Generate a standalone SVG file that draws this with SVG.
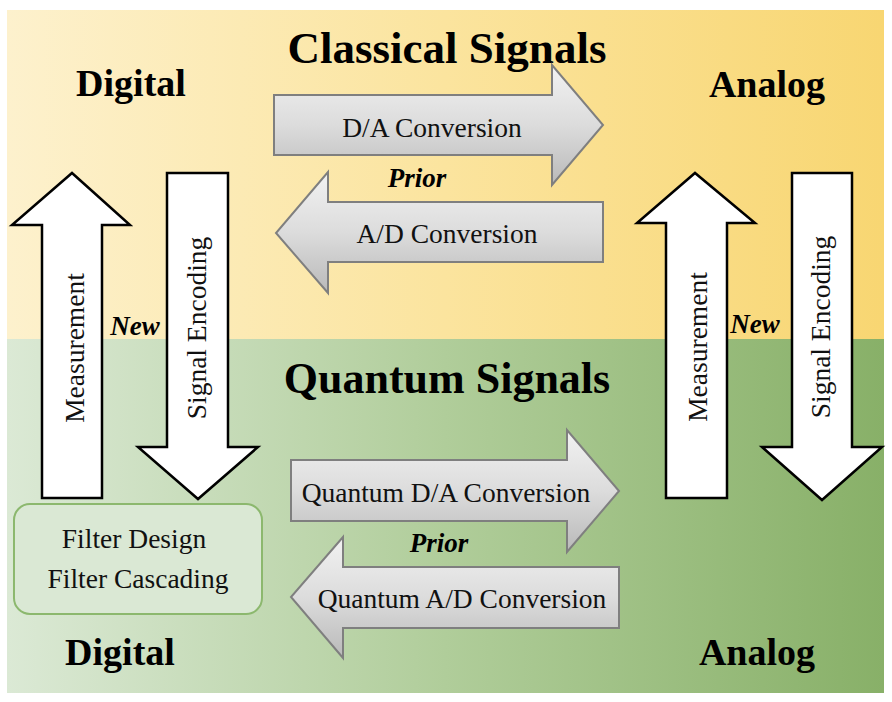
<svg xmlns="http://www.w3.org/2000/svg" width="892" height="702" viewBox="0 0 892 702">
<defs>
<linearGradient id="bgY" x1="0" y1="0" x2="1" y2="0">
<stop offset="0" stop-color="#fdf1cd"/>
<stop offset="0.5" stop-color="#fbe49e"/>
<stop offset="1" stop-color="#f8d672"/>
</linearGradient>
<linearGradient id="bgG" x1="0" y1="0" x2="1" y2="0">
<stop offset="0" stop-color="#dbe9d5"/>
<stop offset="0.5" stop-color="#b0cd9a"/>
<stop offset="1" stop-color="#88b068"/>
</linearGradient>
<linearGradient id="gray" x1="0" y1="0" x2="0" y2="1">
<stop offset="0" stop-color="#f2f2f2"/>
<stop offset="0.5" stop-color="#dcdcdc"/>
<stop offset="1" stop-color="#b9b9b9"/>
</linearGradient>
<style>
.gray{fill:url(#gray);stroke:#7f7f7f;stroke-width:2;stroke-linejoin:miter}
.white{fill:#ffffff;stroke:#000000;stroke-width:2.5;stroke-linejoin:miter}
.lbl{font-family:"Liberation Serif","Times New Roman",serif;font-size:27.5px;fill:#111111;text-anchor:middle}
.hd{font-family:"Liberation Serif","Times New Roman",serif;font-weight:bold;fill:#000000;text-anchor:middle}
.em{font-family:"Liberation Serif","Times New Roman",serif;font-weight:bold;font-style:italic;font-size:27px;fill:#000000;text-anchor:middle}
</style>
</defs>
<g id="background">
<rect x="7" y="10" width="877" height="329" fill="url(#bgY)"/>
<rect x="7" y="339" width="877" height="354" fill="url(#bgG)"/>
</g>
<g id="titles">
<text class="hd" x="447" y="63" font-size="45">Classical Signals</text>
<text class="hd" x="447" y="393" font-size="44">Quantum Signals</text>
<text class="hd" x="131" y="96" font-size="38">Digital</text>
<text class="hd" x="767" y="97" font-size="38">Analog</text>
<text class="hd" x="120" y="665" font-size="38">Digital</text>
<text class="hd" x="757" y="665" font-size="38">Analog</text>
</g>
<g id="connectors">
<g id="da-classical">
<path class="gray" d="M274,95 L552,95 L552,65 L603,125 L552,185 L552,155 L274,155 Z"/>
<text class="lbl" x="432" y="137">D/A Conversion</text>
</g>
<g id="ad-classical">
<path class="gray" d="M603,202 L328,202 L328,172 L276,233 L328,293 L328,262 L603,262 Z"/>
<text class="lbl" x="447" y="243">A/D Conversion</text>
</g>
<text class="em" x="417" y="187">Prior</text>
<g id="da-quantum">
<path class="gray" d="M291,460 L567,460 L567,430 L619,491 L567,552 L567,521 L291,521 Z"/>
<text class="lbl" x="446" y="502">Quantum D/A Conversion</text>
</g>
<g id="ad-quantum">
<path class="gray" d="M619,567 L343,567 L343,537 L291,597 L343,658 L343,628 L619,628 Z"/>
<text class="lbl" x="462" y="608">Quantum A/D Conversion</text>
</g>
<text class="em" x="439" y="552">Prior</text>
<g id="measure-left">
<path class="white" d="M42,498 L42,225 L12,225 L72,173 L130,225 L102,225 L102,498 Z"/>
<text class="lbl" transform="translate(84,348) rotate(-90)">Measurement</text>
</g>
<g id="encode-left">
<path class="white" d="M167,173 L228,173 L228,447 L258,447 L198,499 L138,447 L167,447 Z"/>
<text class="lbl" transform="translate(206,328) rotate(-90)">Signal Encoding</text>
</g>
<text class="em" x="135" y="335">New</text>
<g id="measure-right">
<path class="white" d="M666,498 L666,223 L637,223 L695,173 L755,223 L727,223 L727,498 Z"/>
<text class="lbl" transform="translate(707,347) rotate(-90)">Measurement</text>
</g>
<g id="encode-right">
<path class="white" d="M792,173 L852,173 L852,447 L882,447 L822,500 L762,447 L792,447 Z"/>
<text class="lbl" transform="translate(830,327) rotate(-90)">Signal Encoding</text>
</g>
<text class="em" x="755" y="333">New</text>
</g>
<g id="filter-box">
<rect x="14" y="504" width="248" height="110" rx="16" ry="16" fill="#dae8d4" stroke="#8cb86e" stroke-width="2"/>
<text class="lbl" x="134" y="548">Filter Design</text>
<text class="lbl" x="138" y="588">Filter Cascading</text>
</g>
</svg>
